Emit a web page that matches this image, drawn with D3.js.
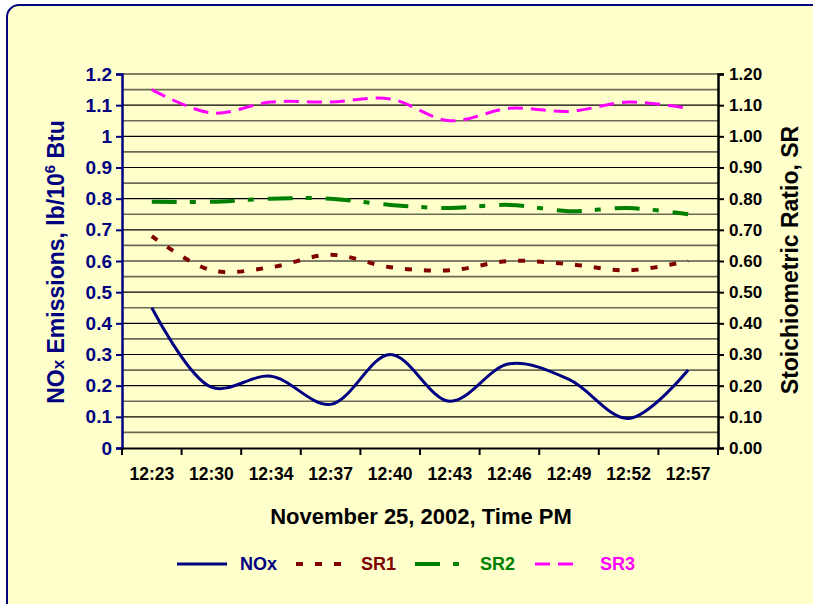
<!DOCTYPE html>
<html>
<head>
<meta charset="utf-8">
<script src="https://cdn.jsdelivr.net/npm/d3@7"></script>
<style>
  html, body { margin: 0; padding: 0; background: #ffffff; }
  svg { display: block; }
  text { font-family: "Liberation Sans", Arial, sans-serif; font-weight: bold; }
</style>
</head>
<body>
<svg id="chart" width="813" height="604"></svg>
<script>
const categories = ["12:23","12:30","12:34","12:37","12:40","12:43","12:46","12:49","12:52","12:57"];
const noxValues = [0.45, 0.195, 0.23, 0.14, 0.30, 0.15, 0.27, 0.22, 0.095, 0.25];
const sr1Values = [0.68, 0.57, 0.58, 0.62, 0.58, 0.57, 0.60, 0.59, 0.57, 0.60];
const sr2Values = [0.79, 0.79, 0.80, 0.80, 0.78, 0.77, 0.78, 0.76, 0.77, 0.75];
const sr3Values = [1.15, 1.075, 1.11, 1.11, 1.12, 1.05, 1.09, 1.08, 1.11, 1.09];
const leftTicks = [0, 0.1, 0.2, 0.3, 0.4, 0.5, 0.6, 0.7, 0.8, 0.9, 1.0, 1.1, 1.2];
const rightTicks = [0, 0.1, 0.2, 0.3, 0.4, 0.5, 0.6, 0.7, 0.8, 0.9, 1.0, 1.1, 1.2];
const gridValues = d3.range(0, 25).map(i => i * 0.05);
const seriesNames = ["NOx", "SR1", "SR2", "SR3"];

const svg = d3.select("#chart");
const M = { left: 122, right: 718, top: 74, bottom: 448 };
const FF = "Liberation Sans, Arial, sans-serif";

svg.append("rect")
  .attr("x", 7).attr("y", 5).attr("width", 830).attr("height", 620)
  .attr("rx", 12).attr("ry", 12)
  .attr("fill", "#FFFFCC").attr("stroke", "#000080").attr("stroke-width", 2);

const x = d3.scaleBand().domain(categories).range([M.left, M.right]).padding(0);
const yL = d3.scaleLinear().domain([0, 1.2]).range([M.bottom, M.top]);
const yR = d3.scaleLinear().domain([0, 1.2]).range([M.bottom, M.top]);

// gridlines
svg.append("g").selectAll("line").data(gridValues.slice(1)).join("line")
  .attr("x1", M.left).attr("x2", M.right)
  .attr("y1", d => yL(d)).attr("y2", d => yL(d))
  .attr("stroke", (d, i) => (i % 2 === 1) ? "#000000" : "#6b6b55")
  .attr("stroke-width", (d, i) => (i % 2 === 1) ? 1.2 : 1.6);

// left axis
const gL = svg.append("g").attr("transform", `translate(${M.left},0)`)
  .call(d3.axisLeft(yL).tickValues(leftTicks).tickSize(6).tickPadding(4)
    .tickFormat(d => d3.format("")(+d.toFixed(1))));
gL.select(".domain").attr("stroke", "#000080").attr("stroke-width", 2.5);
gL.selectAll(".tick line").attr("stroke", "#000080").attr("stroke-width", 2);
gL.selectAll(".tick text").attr("fill", "#000080").attr("font-size", 19)
  .attr("font-family", FF).attr("font-weight", "bold");

// right axis
const gR = svg.append("g").attr("transform", `translate(${M.right},0)`)
  .call(d3.axisRight(yR).tickValues(rightTicks).tickSize(6).tickPadding(5)
    .tickFormat(d3.format(".2f")));
gR.select(".domain").attr("stroke", "#000").attr("stroke-width", 2.5);
gR.selectAll(".tick line").attr("stroke", "#000").attr("stroke-width", 2);
gR.selectAll(".tick text").attr("fill", "#000").attr("font-size", 17)
  .attr("font-family", FF).attr("font-weight", "bold");

// bottom axis
const gB = svg.append("g").attr("transform", `translate(0,${M.bottom})`)
  .call(d3.axisBottom(x).tickSize(0).tickPadding(20));
gB.select(".domain").attr("stroke", "#000").attr("stroke-width", 2);
gB.selectAll(".tick text").attr("fill", "#000").attr("font-size", 17.5)
  .attr("font-family", FF).attr("font-weight", "bold");
const boundaries = categories.map(c => x(c)).concat([x(categories[categories.length - 1]) + x.bandwidth()]);
svg.append("g").selectAll("line").data(boundaries).join("line")
  .attr("x1", d => d).attr("x2", d => d)
  .attr("y1", M.bottom).attr("y2", M.bottom + 7)
  .attr("stroke", "#000").attr("stroke-width", 2);

// series lines
const cx = c => x(c) + x.bandwidth() / 2;
const series = [
  { name: seriesNames[0], values: noxValues, scale: yL, color: "#000080", width: 3, dash: null },
  { name: seriesNames[1], values: sr1Values, scale: yR, color: "#800000", width: 4, dash: "7,12" },
  { name: seriesNames[2], values: sr2Values, scale: yR, color: "#008000", width: 4, dash: "25,13,6,14" },
  { name: seriesNames[3], values: sr3Values, scale: yR, color: "#FF00FF", width: 3, dash: "15,8" }
];
series.forEach(s => {
  const line = d3.line()
    .x((d, i) => cx(categories[i]))
    .y(d => s.scale(d))
    .curve(d3.curveCatmullRom.alpha(0.5));
  svg.append("path").datum(s.values)
    .attr("d", line)
    .attr("fill", "none")
    .attr("stroke", s.color)
    .attr("stroke-width", s.width)
    .attr("stroke-dasharray", s.dash)
    .attr("stroke-linejoin", "round");
});

// axis titles
svg.append("text")
  .attr("x", 421).attr("y", 524)
  .attr("text-anchor", "middle").attr("font-size", 22).attr("fill", "#000")
  .text("November 25, 2002, Time PM");

const lt = svg.append("text")
  .attr("transform", "translate(64,262) rotate(-90)")
  .attr("text-anchor", "middle").attr("font-size", 23).attr("fill", "#000080");
lt.append("tspan").text("NO");
lt.append("tspan").attr("font-size", 17).text("x");
lt.append("tspan").text(" Emissions, lb/10");
lt.append("tspan").attr("font-size", 15).attr("dy", -9).text("6");
lt.append("tspan").attr("dy", 9).text(" Btu");

svg.append("text")
  .attr("transform", "translate(798,260) rotate(-90)")
  .attr("text-anchor", "middle").attr("font-size", 23).attr("fill", "#000")
  .text("Stoichiometric Ratio, SR");

// legend
const legendX = [177, 296, 415, 535];
const legendLineW = [50, 50, 47, 43];
const legendTextX = [240, 361, 480, 600];
const lg = svg.append("g");
series.forEach((s, i) => {
  lg.append("line")
    .attr("x1", legendX[i]).attr("x2", legendX[i] + legendLineW[i])
    .attr("y1", 564).attr("y2", 564)
    .attr("stroke", s.color).attr("stroke-width", s.width)
    .attr("stroke-dasharray", s.dash);
  lg.append("text")
    .attr("x", legendTextX[i]).attr("y", 570)
    .attr("font-size", 18).attr("fill", s.color)
    .text(s.name);
});
</script>
</body>
</html>
